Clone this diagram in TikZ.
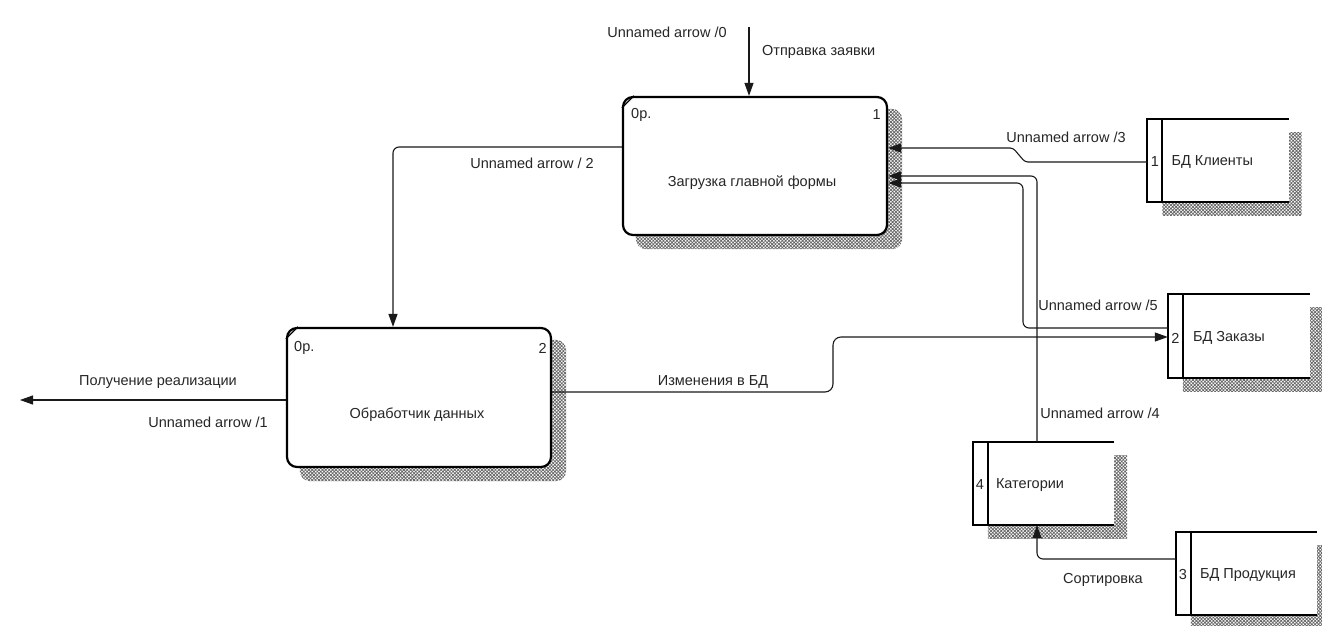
\documentclass[tikz,border=0pt]{standalone}
\usepackage{fontspec}
\setmainfont{Liberation Sans}
\usetikzlibrary{arrows.meta,patterns.meta}
\pgfdeclarelayer{back}
\pgfsetlayers{back,main}
\begin{document}
\begin{tikzpicture}[x=1pt,y=-1pt,
  lbl/.style={font=\fontsize{14.5}{17}\selectfont, text=black!85, inner sep=0pt},
  proc/.style={draw=black, line width=2.2pt, rounded corners=10pt, fill=white,
    minimum width=264pt, minimum height=138pt, inner sep=0pt},
  store/.style={fill=white, minimum width=141pt, minimum height=83pt, inner sep=0pt},
  flow/.style={draw=black!90, line width=1.1pt, rounded corners=6pt,
    -{Triangle[length=13pt,width=9pt]}},
  shade/.style={pattern={Hatch[angle=45,distance=2.4pt,line width=0.75pt]},
    pattern color=black!60},
]
\useasboundingbox (0,0) rectangle (1322,626);
\clip (0,0) rectangle (1322,626);

% processes
\node[proc] (p1) at (755,166) {};
\node[proc, minimum height=139pt] (p2) at (419,397.5) {};
\node[lbl] (p1name) at (752,183) {Загрузка главной формы};
\node[lbl, anchor=west] (p1tag) at (631,115) {0р.};
\node[lbl, anchor=east] (p1num) at (881,115) {1};
\node[lbl] (p2name) at (417,415) {Обработчик данных};
\node[lbl, anchor=west] (p2tag) at (294,348) {0р.};
\node[lbl, anchor=east] (p2num) at (547,348) {2};
\foreach \p in {p1,p2}
  \draw[line width=1.2pt] ([yshift=-12pt]\p.north west) -- ([xshift=12pt]\p.north west);

% data stores
\node[store] (s1) at (1218,160.5) {};
\node[store, minimum width=142pt, minimum height=84pt] (s2) at (1239,336) {};
\node[store] (s4) at (1043.5,483.5) {};
\node[store] (s3) at (1246.5,573.5) {};
\foreach \s in {s1,s2,s3,s4} {
  \draw[line width=2pt] (\s.north east) -- (\s.north west) -- (\s.south west) -- (\s.south east);
  \draw[line width=2pt] ([xshift=15pt]\s.north west) -- ([xshift=15pt]\s.south west);
}
\node[lbl] (s1num) at ([xshift=7.5pt,yshift=-1.5pt]s1.west) {1};
\node[lbl, anchor=west] (s1name) at ([xshift=24pt,yshift=-1.5pt]s1.west) {БД Клиенты};
\node[lbl] (s2num) at ([xshift=7.5pt,yshift=-2pt]s2.west) {2};
\node[lbl, anchor=west] (s2name) at ([xshift=25pt,yshift=-2pt]s2.west) {БД Заказы};
\node[lbl] (s4num) at ([xshift=7pt,yshift=-1.5pt]s4.west) {4};
\node[lbl, anchor=west] (s4name) at ([xshift=23pt,yshift=-1.5pt]s4.west) {Категории};
\node[lbl] (s3num) at ([xshift=7pt,yshift=-1.5pt]s3.west) {3};
\node[lbl, anchor=west] (s3name) at ([xshift=24pt,yshift=-1.5pt]s3.west) {БД Продукция};

% page background and drop shadows, behind everything else
\begin{pgfonlayer}{back}
  \fill[white] (0,0) rectangle (1322,626);
  \foreach \p in {p1,p2}
    \fill[shade, rounded corners=10pt] ([xshift=14pt,yshift=-13pt]\p.north west)
      rectangle ([xshift=14pt,yshift=-13pt]\p.south east);
  \foreach \s in {s1,s2,s3,s4}
    \fill[shade] ([xshift=15pt,yshift=-14pt]\s.north west)
      rectangle ([xshift=13pt,yshift=-13pt]\s.south east);
\end{pgfonlayer}

% flows
\coordinate (src0) at (749,27);
\draw[flow] (src0) -- (src0 |- p1.north);
\coordinate (sink1) at (20,400);
\draw[flow] (p2.west |- sink1) -- (sink1);
\coordinate (bend2) at (393,147);
\draw[flow] (p1.west |- bend2) -- (bend2) -- (bend2 |- p2.north);
\coordinate (c1) at (833,392);
\coordinate (c2) at (833,337);
\draw[flow, rounded corners=8pt] (p2.east |- c1) -- (c1) -- (c2) -- (s2.west |- c2);
\coordinate (j1) at (1025,162);
\coordinate (j2) at (1013,148);
\draw[flow, rounded corners=3pt] (s1.west |- j1) -- (j1) -- (j2) -- (p1.east |- j2);
\coordinate (k1) at (1023,328);
\coordinate (k2) at (1023,183);
\draw[flow] (s2.west |- k1) -- (k1) -- (k2) -- (p1.east |- k2);
\coordinate (m1) at (1037,176);
\draw[flow] (m1 |- s4.north) -- (m1) -- (p1.east |- m1);
\coordinate (n1) at (1037,559);
\draw[flow] (s3.west |- n1) -- (n1) -- (n1 |- s4.south);

% flow labels
\node[lbl] (l0) at (667,32) {Unnamed arrow /0};
\node[lbl, anchor=west] (l0b) at (762,52) {Отправка заявки};
\node[lbl] (l2) at (532,163) {Unnamed arrow / 2};
\node[lbl] (l1a) at (158,382) {Получение реализации};
\node[lbl] (l1b) at (208,422) {Unnamed arrow /1};
\node[lbl] (l6) at (713,382) {Изменения в БД};
\node[lbl] (l3) at (1066,137) {Unnamed arrow /3};
\node[lbl] (l5) at (1098,305) {Unnamed arrow /5};
\node[lbl] (l4) at (1100,413) {Unnamed arrow /4};
\node[lbl] (l7) at (1103,580) {Сортировка};
\end{tikzpicture}
\end{document}
